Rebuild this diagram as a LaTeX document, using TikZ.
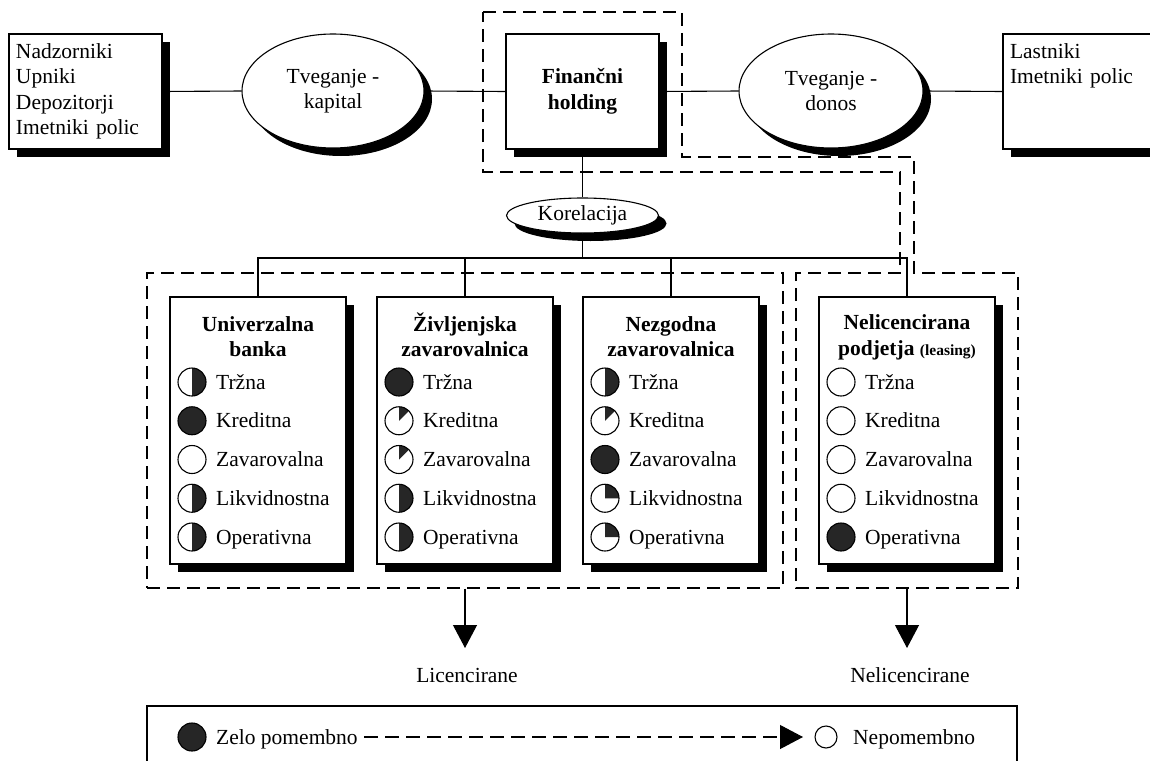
\documentclass[tikz,border=0pt]{standalone}
\usepackage{fontspec}
\setmainfont{Liberation Serif}
\usetikzlibrary{shapes.geometric,shadows,arrows.meta}

\tikzset{
  castshadow/.style={drop shadow={shadow xshift=8pt, shadow yshift=-8pt, fill=black, opacity=1}},
  plainbox/.style={draw, fill=white, line width=1.1pt, castshadow, inner sep=0pt},
  oval/.style={ellipse, draw, fill=white, line width=1.1pt, castshadow, inner sep=0pt, align=center},
  dashline/.style={line width=1.1pt, dash pattern=on 13pt off 7pt},
  ttl/.style={font=\fontsize{21.5}{25.5}\selectfont\bfseries, anchor=base, inner sep=0pt},
  lbl/.style={anchor=base west, inner sep=0pt},
  dot/.style={circle, draw, line width=1.1pt, minimum size=28pt, inner sep=0pt},
  dark/.style={fill=black!85},
  link/.style={line width=1.1pt},
  headarrow/.style={-{Triangle[length=23pt,width=24pt]}}
}

% filled parts of the importance indicators
\newcommand\rknone[1]{}
\newcommand\rkfull[1]{\fill[dark] (#1) circle[radius=14];}
\newcommand\rkhalf[1]{\fill[dark] (#1) ++(-90:14) arc[start angle=-90, end angle=90, radius=14] -- cycle;}
\newcommand\rkeighth[1]{\fill[dark] (#1) -- ++(-90:14) arc[start angle=-90, end angle=-45, radius=14] -- cycle;}
\newcommand\rkquarter[1]{\fill[dark] (#1) -- ++(-90:14) arc[start angle=-90, end angle=0, radius=14] -- cycle;}

% one risk line: name, x, y, kind of indicator, label
\newcommand\riskrow[5]{%
  \coordinate (#1) at (#2,#3);
  \csname rk#4\endcsname{#1}
  \node[dot] (#1-o) at (#1) {};
  \node[lbl] (#1-t) at ([xshift=24pt,yshift=-7pt]#1) {#5};
}

\begin{document}
\begin{tikzpicture}[x=1pt, y=-1pt, font=\fontsize{21.5}{25.5}\selectfont]
\useasboundingbox (0,0) rectangle (1150,760);

% dashed groupings
\node[draw, dashline, minimum width=636pt, minimum height=315pt, inner sep=0pt] (lic) at (465,430.5) {};
\draw[dashline] (483,12) -- (682,12) -- (682,157) -- (914,157) -- (914,273) -- (1018,273)
  -- (1018,588) -- (796,588) -- (796,273) -- (900,273) -- (900,172) -- (483,172) -- cycle;

% top row
\node[plainbox, minimum width=153pt, minimum height=115pt, text width=139pt, align=left] (sup) at (85.5,91.5)
  {Nadzorniki\\Upniki\\Depozitorji\\Imetniki polic};
\node[plainbox, minimum width=160pt, minimum height=115pt, text width=146pt, align=left] (own) at (1083,91.5)
  {Lastniki\\Imetniki polic\\\mbox{}\\\phantom{p}};
\node[plainbox, minimum width=153pt, minimum height=115pt, align=center, font=\fontsize{21.5}{25.5}\selectfont\bfseries] (hold) at (582.5,91.5)
  {Finančni\\holding};
\node[oval, minimum width=182pt, minimum height=114pt] (rk1) at (333,91) {Tveganje -\\kapital};
\node[oval, minimum width=184pt, minimum height=114pt] (rk2) at (831,91) {Tveganje -\\donos};
\node[oval, minimum width=152pt, minimum height=35pt] (kor) at (582.5,215.5) {Korelacija};

% institutions
\node[plainbox, minimum width=176pt, minimum height=267pt] (ub) at (258,430.5) {};
\node[plainbox, minimum width=176pt, minimum height=267pt] (zz) at (465,430.5) {};
\node[plainbox, minimum width=176pt, minimum height=267pt] (nz) at (671,430.5) {};
\node[plainbox, minimum width=176pt, minimum height=267pt] (nl) at (907,430.5) {};

\node[ttl] (ub-h1) at (258,331) {Univerzalna};
\node[ttl] (ub-h2) at (258,356) {banka};
\node[ttl] (zz-h1) at (465,331) {Življenjska};
\node[ttl] (zz-h2) at (465,356) {zavarovalnica};
\node[ttl] (nz-h1) at (671,331) {Nezgodna};
\node[ttl] (nz-h2) at (671,356) {zavarovalnica};
\node[ttl] (nl-h1) at (907,329) {Nelicencirana};
\node[ttl] (nl-h2) at (907,355) {podjetja {\fontsize{15.5}{18}\selectfont (leasing)}};

\foreach \k/\t [count=\i from 0] in {half/Tržna, full/Kreditna, none/Zavarovalna, half/Likvidnostna, half/Operativna}
  {\riskrow{ub\i}{192}{382+38.75*\i}{\k}{\t}}
\foreach \k/\t [count=\i from 0] in {full/Tržna, eighth/Kreditna, eighth/Zavarovalna, half/Likvidnostna, half/Operativna}
  {\riskrow{zz\i}{399}{382+38.75*\i}{\k}{\t}}
\foreach \k/\t [count=\i from 0] in {half/Tržna, eighth/Kreditna, full/Zavarovalna, quarter/Likvidnostna, quarter/Operativna}
  {\riskrow{nz\i}{605}{382+38.75*\i}{\k}{\t}}
\foreach \k/\t [count=\i from 0] in {none/Tržna, none/Kreditna, none/Zavarovalna, none/Likvidnostna, full/Operativna}
  {\riskrow{nl\i}{841}{382+38.75*\i}{\k}{\t}}

% connectors
\draw[link] (sup.east) -- (rk1.west);
\draw[link] (rk1.east) -- (hold.west);
\draw[link] (hold.east) -- (rk2.west);
\draw[link] (rk2.east) -- (own.west);
\draw[link] (hold.south) -- (kor.north);
\coordinate (bus) at (582.5,258);
\draw[link] (kor.south) -- (bus);
\draw[link] (ub.north) |- (bus) -| (nl.north);
\draw[link] (zz.north) -- (zz.north |- bus);
\draw[link] (nz.north) -- (nz.north |- bus);

% licensed / unlicensed outputs
\coordinate (licend) at (465,648);
\draw[link, headarrow] (lic.south) -- (licend);
\node (lictxt) at (467,675) {Licencirane};
\coordinate (nlbot) at (907,588);
\coordinate (nlend) at (907,648);
\draw[link, headarrow] (nlbot) -- (nlend);
\node (nltxt) at (910,675) {Nelicencirane};

% legend
\node[draw, link, minimum width=870pt, minimum height=70pt, inner sep=0pt] (leg) at (582,741) {};
\riskrow{hi}{192}{737}{full}{Zelo pomembno}
\coordinate (ls) at (364,737);
\coordinate (le) at (803,737);
\draw[link, dash pattern=on 14pt off 7pt, headarrow] (ls) -- (le);
\coordinate (lo) at (826,737);
\node[dot, minimum size=22pt] (lo-o) at (lo) {};
\node[lbl] (lo-t) at (853,744) {Nepomembno};
\end{tikzpicture}
\end{document}
